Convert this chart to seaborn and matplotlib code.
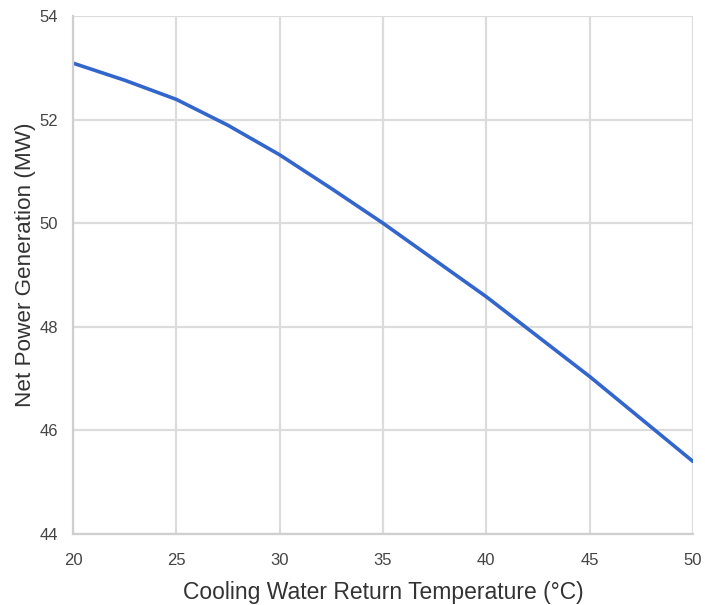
import matplotlib
matplotlib.use("Agg")
import matplotlib.pyplot as plt
import seaborn as sns
import pandas as pd

# Net power output versus cooling water return temperature
temperature_c = [20, 22.5, 25, 27.5, 30, 32.5, 35, 37.5, 40, 42.5, 45, 47.5, 50]
net_power_mw = [53.09, 52.76, 52.39, 51.89, 51.32, 50.67, 50.00, 49.29, 48.58, 47.81, 47.04, 46.22, 45.40]

x_ticks = [20, 25, 30, 35, 40, 45, 50]
y_ticks = [44, 46, 48, 50, 52, 54]

df = pd.DataFrame({"temp": temperature_c, "power": net_power_mw})

sns.set_style("whitegrid", {
    "grid.color": "#dcdcdc",
    "axes.edgecolor": "#dcdcdc",
})
plt.rcParams["font.family"] = ["Liberation Sans", "DejaVu Sans"]

fig = plt.figure(figsize=(7.05, 6.05), dpi=100)
ax = fig.add_axes([73 / 705, 1 - 534 / 605, 620 / 705, 518 / 605])

sns.lineplot(data=df, x="temp", y="power", ax=ax, color="#3366cc",
             linewidth=2.6, estimator=None, sort=True)

ax.set_xlim(20, 50)
ax.set_ylim(44, 54)
ax.set_xticks(x_ticks)
ax.set_yticks(y_ticks)
ax.grid(True, color="#dcdcdc", linewidth=1.6)
for side in ["left", "bottom"]:
    ax.spines[side].set_color("#cfcfcf")
    ax.spines[side].set_linewidth(1.6)
for side in ["top", "right"]:
    ax.spines[side].set_visible(False)

ax.tick_params(axis="both", length=0, labelsize=12, labelcolor="#444444")
ax.tick_params(axis="x", pad=14)
ax.tick_params(axis="y", pad=11)

ax.set_xlabel("Cooling Water Return Temperature (°C)", fontsize=16.5,
              color="#333333", labelpad=9)
ax.set_ylabel("Net Power Generation (MW)", fontsize=16.2, color="#333333")
ax.yaxis.set_label_coords(-0.06, 0.519)

fig.savefig("out.png", dpi=100, facecolor="white")
